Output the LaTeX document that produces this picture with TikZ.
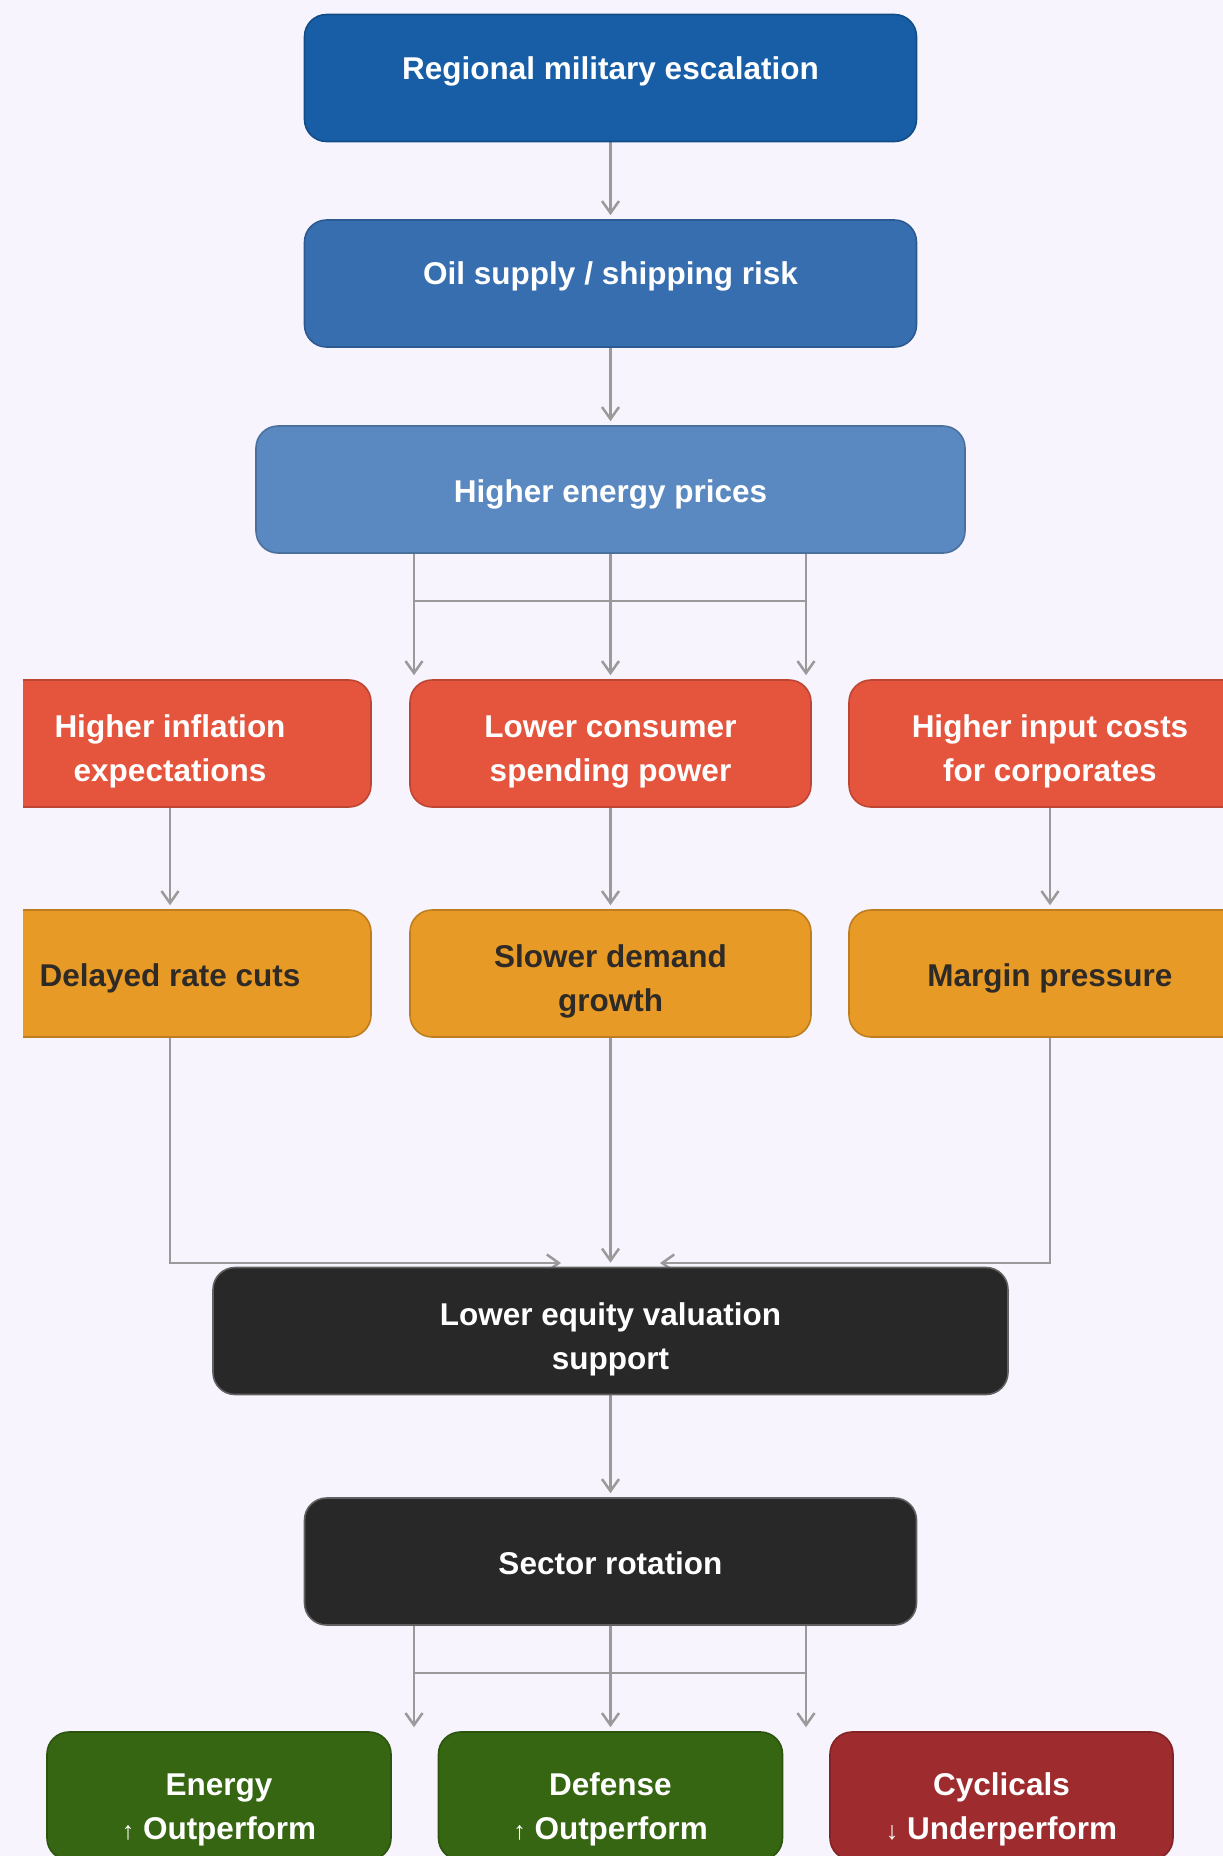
\documentclass[tikz,border=0pt]{standalone}
\usepackage{fontspec}
\setmainfont{Liberation Sans}
\usetikzlibrary{arrows.meta,calc}
\definecolor{bgc}{HTML}{F8F4FD}
\definecolor{cA}{HTML}{175EA6}
\definecolor{cB}{HTML}{376EB0}
\definecolor{cC}{HTML}{5A88C0}
\definecolor{cred}{HTML}{E5553E}
\definecolor{corg}{HTML}{E89A26}
\definecolor{cblk}{HTML}{282828}
\definecolor{cgrn}{HTML}{366612}
\definecolor{cdred}{HTML}{9E2B2E}
\definecolor{lnc}{HTML}{9A9A9A}
\definecolor{dtxt}{HTML}{2E2A26}
\newcommand{\tallstrut}[1]{\rule{0pt}{#1}}
\pgfdeclarelayer{back}
\pgfdeclarelayer{edges}
\pgfsetlayers{back,edges,main}
\begin{document}
\begin{tikzpicture}[x=1pt,y=-1pt,
  box/.style={rounded corners=22pt, line width=1.6pt, draw=#1!82!black, fill=#1,
    text=white, font=\fontsize{31.5}{44}\selectfont\bfseries, align=center,
    inner sep=0pt, minimum height=127pt},
  one/.style={text height=32pt, text depth=6.4pt},
  raised/.style={text height=20pt, text depth=18pt},
  ln/.style={draw=lnc, line width=2.7pt},
  arr/.style={ln, -{Straight Barb[length=12pt,width=17pt,line width=2.5pt]}, shorten >=4pt}]
\useasboundingbox (0,0) rectangle (1223,1856);
\begin{pgfonlayer}{back}
\fill[bgc] (0,0) rectangle (1223,1856);
\end{pgfonlayer}
% row 1-3
\node[box=cA, raised, minimum width=612pt] (esc) at (610.5,78) {Regional military escalation};
\node[box=cB, raised, minimum width=612pt] (oil) at (610.5,283.5) {Oil supply / shipping risk};
\node[box=cC, one, minimum width=709pt] (energy) at (610.5,489.5) {Higher energy prices};
% red row
\node[box=cred, minimum width=402pt] (infl) at (170,743.5) {\tallstrut{39pt}Higher inflation\\expectations};
\node[box=cred, minimum width=401pt] (cons) at (610.5,743.5) {\tallstrut{39pt}Lower consumer\\spending power};
\node[box=cred, minimum width=402pt] (input) at (1050,743.5) {\tallstrut{39pt}Higher input costs\\for corporates};
% orange row
\node[box=corg, one, text=dtxt, minimum width=402pt] (rate) at (170,973.5) {Delayed rate cuts};
\node[box=corg, text=dtxt, minimum width=401pt] (demand) at (610.5,973.5) {\tallstrut{39pt}Slower demand\\growth};
\node[box=corg, one, text=dtxt, minimum width=402pt] (margin) at (1050,973.5) {Margin pressure};
% black boxes
\node[box=cblk, draw=black!62, minimum width=795pt] (equity) at (610.5,1331) {\tallstrut{39pt}Lower equity valuation\\support};
\node[box=cblk, draw=black!62, one, minimum width=612pt] (sector) at (610.5,1561.5) {Sector rotation};
% bottom
\node[box=cgrn, minimum width=344pt, minimum height=128pt] (en) at (219,1796) {\tallstrut{49pt}Energy\\{\fontsize{25}{44}\selectfont\mdseries ↑} Outperform};
\node[box=cgrn, minimum width=344pt, minimum height=128pt] (def) at (610.5,1796) {\tallstrut{49pt}Defense\\{\fontsize{25}{44}\selectfont\mdseries ↑} Outperform};
\node[box=cdred, minimum width=343pt, minimum height=128pt] (cyc) at (1001.5,1796) {\tallstrut{49pt}Cyclicals\\{\fontsize{25}{44}\selectfont\mdseries ↓} Underperform};
% helper coordinates
\coordinate (bl) at (414,601);
\coordinate (br) at (806,601);
\coordinate (eqL) at (561,1263);
\coordinate (eqR) at (660,1263);
\coordinate (sl) at (414,1673);
\coordinate (sr) at (806,1673);
\begin{pgfonlayer}{edges}
\draw[arr] (esc.south) -- (oil.north);
\draw[arr] (oil.south) -- (energy.north);
\draw[arr] (energy.south) -- (cons.north);
\draw[arr] (energy.south -| bl) -- (bl |- infl.north);
\draw[arr] (energy.south -| br) -- (br |- input.north);
\draw[ln] (bl) -- (br);
\draw[arr] (infl.south) -- (rate.north);
\draw[arr] (cons.south) -- (demand.north);
\draw[arr] (input.south) -- (margin.north);
\draw[ln, -{Straight Barb[length=12pt,width=17pt,line width=2.5pt]}] (rate.south) -- (rate.south |- eqL) -- (eqL);
\draw[ln, -{Straight Barb[length=12pt,width=17pt,line width=2.5pt]}] (margin.south) -- (margin.south |- eqR) -- (eqR);
\draw[arr] (demand.south) -- (equity.north);
\draw[arr] (equity.south) -- (sector.north);
\draw[arr] (sector.south) -- (def.north);
\draw[arr] (sector.south -| sl) -- (sl |- en.north);
\draw[arr] (sector.south -| sr) -- (sr |- cyc.north);
\draw[ln] (sl) -- (sr);
\end{pgfonlayer}
\fill[bgc] (0,0) rectangle (23,1856);
\end{tikzpicture}
\end{document}
